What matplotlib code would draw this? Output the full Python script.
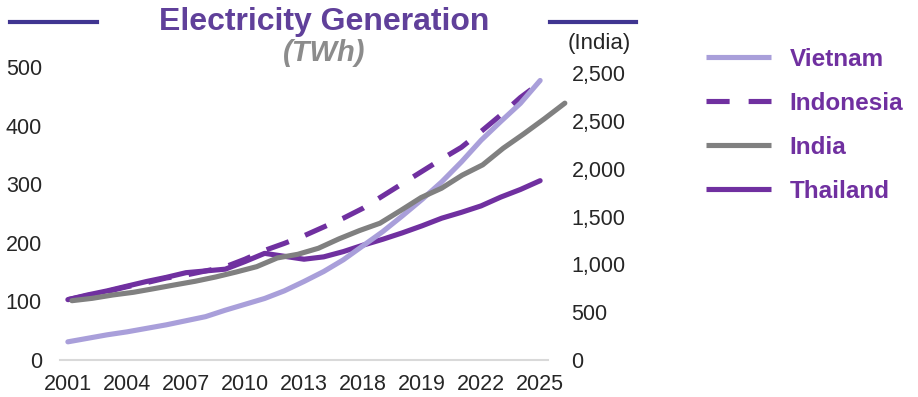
import matplotlib
matplotlib.use("Agg")
import matplotlib.pyplot as plt
from matplotlib.lines import Line2D
from matplotlib.ticker import FixedLocator, FixedFormatter

plt.rcParams['font.family'] = ['Liberation Sans', 'DejaVu Sans']

# Annual electricity generation, TWh
years = list(range(2001, 2026))
tick_years = [2001, 2004, 2007, 2010, 2013, 2016, 2019, 2022, 2025]
tick_labels = ['2001', '2004', '2007', '2010', '2013', '2018', '2019', '2022', '2025']

vietnam = [31, 37, 43, 48, 54, 60, 67, 74, 85, 95, 105, 118, 134, 151, 171,
           195, 219, 246, 274, 304, 338, 375, 407, 438, 477]
indonesia = [103, 110, 117, 125, 132, 140, 145, 152, 159, 172, 187, 199, 212,
             227, 242, 259, 280, 301, 322, 343, 363, 390, 418, 448, 473]
thailand = [103, 111, 118, 126, 134, 141, 149, 152, 155, 168, 182, 177, 172,
            176, 185, 196, 206, 217, 229, 242, 252, 263, 278, 291, 306]
india = [620, 645, 680, 708, 746, 785, 823, 868, 920, 976, 1067, 1105, 1168,
         1266, 1353, 1430, 1562, 1698, 1796, 1932, 2040, 2214, 2364, 2521, 2685]

left_ticks = [0, 100, 200, 300, 400, 500]
right_ticks = [0, 500, 1000, 1500, 2000, 2500, 3000]
right_tick_labels = ['0', '500', '1,000', '1,500', '2,000', '2,500', '2,500']

C_VIET = '#A99FDA'
C_PURPLE = '#7030A0'
C_GRAY = '#808080'
C_TITLE = '#60409A'
C_RULE = '#403591'
C_TEXT = '#262626'

W, H = 918, 397
fig = plt.figure(figsize=(W / 100, H / 100), dpi=100)

rect = [60 / W, 37 / H, 488 / W, 293 / H]
ax = fig.add_axes(rect)
lw = 3.7
tick_fs = 15.5

ax.plot(years, indonesia, color=C_PURPLE, lw=lw, dashes=(4.6, 3.4),
        dash_capstyle='butt', label='Indonesia', zorder=2)
ax.plot(years, thailand, color=C_PURPLE, lw=lw, solid_capstyle='round',
        label='Thailand', zorder=3)
ax.plot(years, vietnam, color=C_VIET, lw=lw, solid_capstyle='round',
        label='Vietnam', zorder=4)

ax.set_xlim(2000.6, 2025.4)
ax.set_ylim(0, 500)
ax.xaxis.set_major_locator(FixedLocator(tick_years))
ax.xaxis.set_major_formatter(FixedFormatter(tick_labels))
ax.set_yticks(left_ticks)
for s in ['top', 'right', 'left']:
    ax.spines[s].set_visible(False)
ax.spines['bottom'].set_color('#D9D9D9')
ax.spines['bottom'].set_linewidth(1.5)
ax.tick_params(axis='both', length=0, labelsize=tick_fs, colors=C_TEXT)
ax.tick_params(axis='x', pad=10)
ax.tick_params(axis='y', pad=13)
ax.patch.set_alpha(0)

# India on its own secondary scale
ax2 = fig.add_axes(rect, frameon=False)
ax2.plot(years, india, color=C_GRAY, lw=lw, solid_capstyle='round',
         label='India', clip_on=False, zorder=5)
ax2.set_xlim(2000.42, 2024.18)
ax2.set_ylim(0, 3063)
ax2.xaxis.set_visible(False)
ax2.yaxis.tick_right()
ax2.yaxis.set_major_locator(FixedLocator(right_ticks))
ax2.yaxis.set_major_formatter(FixedFormatter(right_tick_labels))
ax2.tick_params(axis='y', length=0, labelsize=tick_fs, colors=C_TEXT, pad=17)
ax2.patch.set_alpha(0)

# Title with rules on either side
fig.text(324 / W, 1 - 22 / H, 'Electricity Generation', ha='center', va='center',
         fontsize=23, fontweight='bold', color=C_TITLE)
fig.text(324 / W, 1 - 53 / H, '(TWh)', ha='center', va='center',
         fontsize=21, fontweight='bold', fontstyle='italic', color='#8C8C8C')
for x0, x1 in [(10, 97), (550, 636)]:
    fig.add_artist(Line2D([x0 / W, x1 / W], [1 - 21.5 / H, 1 - 21.5 / H],
                          color=C_RULE, lw=3))
fig.text(599 / W, 1 - 43 / H, '(India)', ha='center', va='center',
         fontsize=16, color=C_TEXT)

# Legend
h_v = Line2D([], [], color=C_VIET, lw=lw, solid_capstyle='butt')
h_id = Line2D([], [], color=C_PURPLE, lw=lw, dashes=(4.5, 3.7), dash_capstyle='butt')
h_in = Line2D([], [], color=C_GRAY, lw=lw, solid_capstyle='butt')
h_t = Line2D([], [], color=C_PURPLE, lw=lw, solid_capstyle='butt')
leg = fig.legend([h_v, h_id, h_in, h_t], ['Vietnam', 'Indonesia', 'India', 'Thailand'],
                 loc='upper left', bbox_to_anchor=(706 / W, 1 - 48 / H),
                 frameon=False, prop={'size': 17.5, 'weight': 'bold'},
                 handlelength=2.67, handletextpad=0.78, labelspacing=0.86,
                 borderaxespad=0, borderpad=0)
for t in leg.get_texts():
    t.set_color(C_PURPLE)

fig.savefig('out.png', dpi=100)
